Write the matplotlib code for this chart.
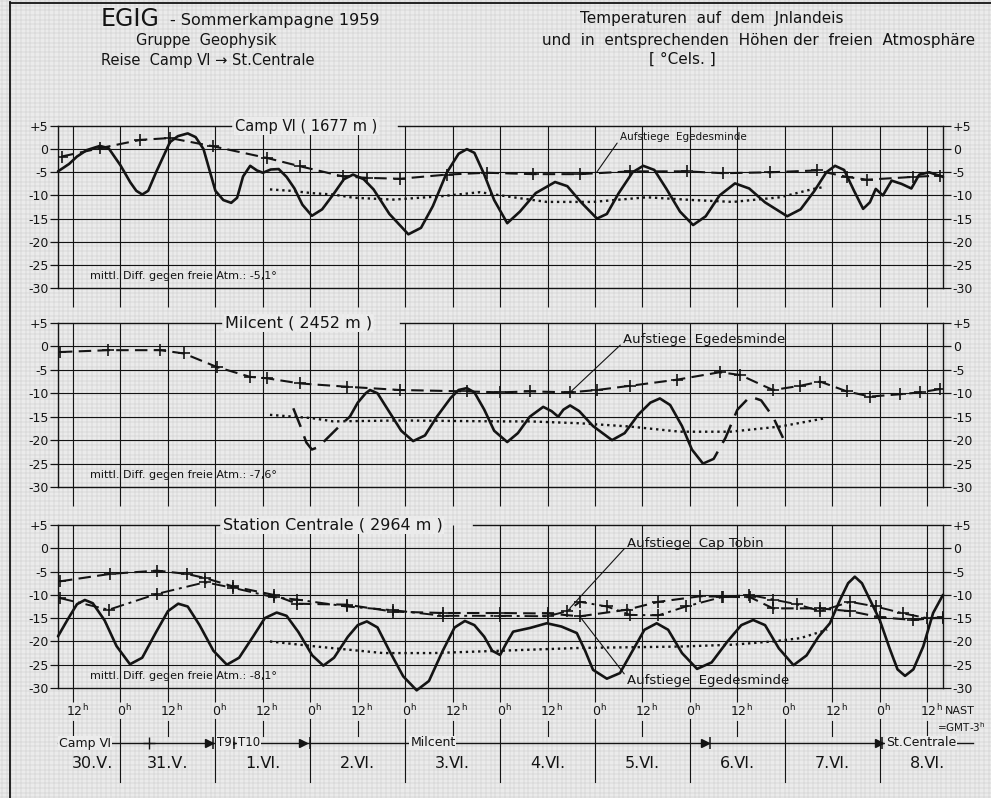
import numpy as np
import matplotlib
matplotlib.use("Agg")
import matplotlib.pyplot as plt
from matplotlib.collections import LineCollection

plt.rcParams['font.family'] = ['DejaVu Sans']
plt.rcParams['mathtext.fontset'] = 'dejavusans'

# ---------------- data (hours after 30.V 0h NAST, temperature in deg C) ----------------
hour_ticks = list(range(12, 229, 12))
y_ticks = [5, 0, -5, -10, -15, -20, -25, -30]
y_labels = ['+5', '0', '-5', '-10', '-15', '-20', '-25', '-30']
day_labels = ['30.Ⅴ.', '31.Ⅴ.', '1.Ⅵ.', '2.Ⅵ.', '3.Ⅵ.', '4.Ⅵ.', '5.Ⅵ.', '6.Ⅵ.', '7.Ⅵ.', '8.Ⅵ.']
day_label_h = [17, 36, 60, 84, 108, 132, 156, 180, 204, 228]

panel_titles = ['Camp Ⅵ ( 1677 m )', 'Milcent ( 2452 m )', 'Station Centrale ( 2964 m )']
mean_diff = ['mittl. Diff. gegen freie Atm.: -5,1°',
             'mittl. Diff. gegen freie Atm.: -7,6°',
             'mittl. Diff. gegen freie Atm.: -8,1°']

# Camp VI
c6_ice = [(8.2, -4.8), (11, -3.2), (13, -1.6), (15.5, -0.2), (18.8, 0.7), (21, 0.2), (24, -3.5),
          (26.5, -7.2), (28, -9.0), (29.5, -9.8), (31, -9.0), (33, -5.0), (36.5, 1.5), (38.5, 2.8),
          (41, 3.4), (43, 2.6), (45, 0.0), (48, -9.0), (50, -11.0), (52, -11.6), (53.5, -10.5),
          (55, -5.9), (56.8, -3.6), (58.5, -4.6), (60, -5.1), (62, -4.4), (64, -4.3), (66, -6.0),
          (68, -8.5), (70, -12.0), (72.4, -14.4), (75, -13.0), (77.8, -9.8), (80.5, -6.5),
          (82.8, -5.5), (85.5, -6.5), (88, -8.7), (92, -14.0), (96.8, -18.4), (100, -17.0),
          (103, -12.3), (106.5, -5.1), (109.5, -1.0), (111.6, 0.0), (113.5, -0.8), (116, -5.5),
          (118.5, -11.0), (121.8, -16.0), (125, -13.5), (129, -9.5), (133.9, -7.1), (137, -8.0),
          (140.5, -11.5), (144.5, -15.0), (147, -14.0), (150, -9.5), (153.5, -5.0), (156.2, -3.6),
          (159, -4.5), (162, -8.5), (165.5, -13.5), (168.8, -16.4), (172, -14.5), (175.5, -10.0),
          (179.4, -7.4), (183, -8.5), (187, -11.5), (192.6, -14.5), (196, -13.0), (199.5, -9.0),
          (202.5, -5.0), (204.7, -3.6), (207, -4.5), (209.5, -9.0), (211.8, -12.9), (213.5, -11.5),
          (215, -8.6), (216.8, -10.0), (219, -6.8), (221.5, -7.5), (224, -8.5), (226, -5.5),
          (228.5, -5.0), (232, -6.0)]
c6_egedes = [(9.1, -1.6), (18.8, 0.2), (29, 2.0), (36.5, 2.4), (47.5, 0.6), (61, -1.9), (69.4, -3.7),
             (80.3, -5.9), (86.3, -6.2), (94.7, -6.4), (106.5, -5.5), (116.6, -5.1), (128.3, -5.4),
             (140.2, -5.4), (152.9, -4.8), (167.3, -4.8), (176.4, -5.2), (188.3, -5.0), (200.1, -4.6),
             (207.7, -6.0), (212.8, -6.6), (224.4, -6.0), (231.3, -5.7)]
c6_mean = [(61.8, -8.7), (67, -9.0), (72.4, -9.5), (77.8, -9.8), (82.9, -10.5), (93, -10.9),
           (104.8, -10.2), (114.9, -9.3), (123.3, -10.4), (131.8, -11.4), (143.5, -11.4),
           (157.1, -10.4), (168.8, -11.0), (178.9, -11.4), (190.8, -10.4), (199.2, -8.6), (201.7, -8.2)]

# Milcent
mc_ice_start = [(67.7, -13.2), (69.5, -17.0), (71, -20.5), (72.4, -22.0), (74, -21.5), (77, -19.0),
                (80, -16.5), (82, -15.0)]
mc_ice = [(82, -15.0), (84, -12.0), (86, -10.0), (87.1, -9.3), (89, -10.0), (92, -14.0), (95, -18.0),
          (98, -20.2), (101, -19.0), (104, -15.0), (107.5, -11.0), (109.5, -9.3), (111.6, -8.9),
          (113.5, -9.8), (116, -13.5), (118.5, -18.0), (121.8, -20.4), (124.5, -18.5), (127.5, -15.0),
          (130.9, -12.9), (133, -13.8), (134.7, -15.0), (136, -13.5), (137.7, -12.6), (140, -13.8),
          (143.5, -17.0), (148.3, -20.0), (151.5, -18.5), (155, -14.5), (158, -12.0), (160.4, -11.1),
          (163, -12.5), (166, -17.0), (168.5, -22.0), (171.3, -25.0)]
mc_ice_end = [(171.3, -25.0), (174, -24.0), (177, -19.5), (180, -13.5), (183.2, -10.7), (186, -11.5),
              (189, -15.0), (192.6, -21.4)]
mc_egedes = [(8.7, -1.2), (20.9, -0.8), (34, -0.8), (40, -1.5), (48.4, -4.4), (56.8, -6.5), (61, -6.8),
             (69.4, -7.9), (81.2, -8.6), (94.7, -9.3), (111.6, -9.6), (120, -9.8), (127.6, -9.6),
             (137.7, -9.8), (144.5, -9.3), (152.9, -8.4), (164.7, -7.1), (175.6, -5.5), (180.7, -6.1),
             (189, -9.3), (195.9, -8.4), (200.9, -7.5), (207.7, -9.6), (213.6, -10.7), (221.2, -10.2),
             (226.2, -9.8), (231.3, -9.1)]
mc_mean = [(61.8, -14.6), (72.4, -15.3), (77.8, -16.0), (94.7, -15.8), (120, -16.0), (127.6, -16.0),
           (140.2, -16.4), (152.9, -17.1), (165.5, -18.2), (178.2, -18.2), (190.8, -17.1), (201.7, -15.4)]

# Station Centrale
sc_ice = [(8.2, -18.9), (10.5, -15.5), (13, -12.0), (15, -11.1), (17, -11.8), (20, -15.5), (23, -21.0),
          (26.4, -24.9), (29.5, -23.5), (33, -18.0), (36, -13.5), (38.6, -11.9), (41, -12.5),
          (44, -16.5), (47.5, -22.0), (50.9, -25.0), (54, -23.5), (57.5, -19.0), (60.5, -15.0),
          (63.5, -13.8), (66, -14.5), (69, -18.0), (72.5, -23.0), (75.3, -25.2), (78, -23.5),
          (81.5, -19.0), (84, -16.5), (86.3, -15.7), (89, -17.0), (92, -22.0), (95.5, -27.5),
          (98.9, -30.5), (102, -28.5), (105.5, -22.0), (108.5, -17.0), (111.1, -15.6), (113.5, -16.5),
          (116, -19.0), (118, -22.0), (120, -22.9), (121.5, -20.5), (123.3, -17.9), (127.6, -17.1),
          (131.8, -16.1), (135.5, -16.8), (139.4, -18.2), (141.5, -22.0), (143.5, -26.1), (147, -28.0),
          (150.3, -26.8), (153.5, -22.0), (156.5, -17.5), (159.6, -16.1), (162.5, -17.5), (166, -22.5),
          (169.8, -25.9), (173.5, -24.5), (177.5, -20.0), (181, -16.5), (184, -15.4), (187, -16.5),
          (190.5, -21.5), (194.2, -25.1), (197.5, -23.0), (200.5, -19.0), (203.4, -16.1), (206, -11.0),
          (208, -7.5), (209.7, -6.1), (211.5, -7.5), (213.5, -11.0), (216, -15.4), (218.5, -21.5),
          (220.5, -26.0), (222.4, -27.4), (224.5, -26.0), (227, -21.1), (229.5, -13.9), (232, -10.0)]
sc_egedes = [(8.7, -7.1), (21.4, -5.5), (33.2, -4.8), (40.8, -5.5), (45.4, -6.4), (52.5, -8.2),
             (62.7, -10.0), (68.6, -11.9), (81.2, -12.1), (93, -13.6), (105.6, -13.9), (120, -13.9),
             (132, -14.0), (140.2, -14.6), (152, -13.2), (160, -11.5), (170.6, -10.3), (176.4, -10.4),
             (183.2, -10.5), (189, -12.9), (200.9, -12.9), (208.5, -13.5), (216, -14.8), (224.4, -15.4),
             (232, -14.8)]
sc_tobin = [(8.7, -10.7), (21, -13.2), (33.2, -9.8), (45.4, -7.3), (52.5, -8.5), (62.7, -10.5),
            (68.6, -11.0), (81.2, -12.5), (93, -13.3), (105.6, -14.5), (120, -14.5), (132, -14.6),
            (137, -13.5), (140.2, -11.5), (147, -12.5), (152.9, -14.3), (160, -14.4), (167, -12.5),
            (176, -10.5), (183, -10.0), (189, -11.0), (195, -12.0), (201, -13.5), (208.5, -11.5),
            (215, -12.5), (222, -14.0), (228, -15.0), (232, -15.0)]
sc_mean = [(61.8, -20.0), (73.6, -21.1), (90.4, -22.5), (103.1, -22.5), (120, -22.0), (140.2, -21.4),
           (165.5, -21.1), (178.9, -20.7), (189, -20.0), (195.9, -19.3), (202.7, -17.5)]

# travel route (hours)
route_arrow_h = [46.4, 51.9, 70.2, 171.8, 215.8]
route_bar_h = [47.3, 52.7, 72.0, 173.2, 216.6]
route_cross_h = [31.2]

# ---------------- layout / style ----------------
W, H = 991, 798
BG = '#ebebeb'
FINE = '#c9c9c9'
INK = '#141414'
H_LEFT, H_RIGHT = 8.2, 232.0
X0, X1 = 58, 943
panel_px = [(126, 288), (323, 487), (525, 688)]
title_gap = [(52.0, 94.3), (49.5, 94.7), (49.0, 113.2)]
title_fs = [10.5, 11.5, 11.5]
NARROW = ['Liberation Sans Narrow', 'DejaVu Sans']

fig = plt.figure(figsize=(W / 100, H / 100), dpi=100, facecolor=BG)


def fx(x):
    return x / W


def fy(y):
    return 1 - y / H


# graph-paper background
bg = fig.add_axes([0, 0, 1, 1], zorder=-10)
bg.set_xlim(0, W)
bg.set_ylim(H, 0)
bg.axis('off')
xs = np.arange(1.8, W, 4.745)
ys = np.arange(1.0, H, 4.63)
segs = [[(x, 0), (x, H)] for x in xs] + [[(0, y), (W, y)] for y in ys]
bg.add_collection(LineCollection(segs, colors=FINE, linewidths=0.35))
bg.plot([10, 10], [2, H], color=INK, lw=1.3)
bg.plot([10, W], [2.5, 2.5], color=INK, lw=1.3)

# header
bg.text(101, 19, 'EGIG', fontsize=17, va='center', ha='left', color=INK)
bg.text(170, 21, '- Sommerkampagne 1959', fontsize=11.5, va='center', ha='left', color=INK)
bg.text(136, 41, 'Gruppe  Geophysik', fontsize=10.5, va='center', ha='left', color=INK)
bg.text(101, 61, 'Reise  Camp Ⅵ → St.Centrale', fontsize=10.5, va='center', ha='left', color=INK)
bg.text(712, 19, 'Temperaturen  auf  dem  Jnlandeis', fontsize=11, va='center', ha='center', color=INK)
bg.text(759, 40, 'und  in  entsprechenden  Höhen der  freien  Atmosphäre', fontsize=11,
        va='center', ha='center', color=INK)
bg.text(682, 59, '[ °Cels. ]', fontsize=11, va='center', ha='center', color=INK)
bg.text(985, 727, '=GMT-3$^{\\mathrm{h}}$', fontsize=7.5, ha='right', va='center', color=INK,
        family=NARROW)

JOIN = dict(solid_joinstyle='round', solid_capstyle='round')
SOLID = dict(ls='-', lw=1.9, color=INK, **JOIN)
LONGDASH = dict(ls=(0, (8, 4)), lw=1.8, color=INK)
DASH = dict(ls=(0, (6, 3)), lw=1.5, color=INK, marker='+', ms=8, mew=1.2)
DASHDOT = dict(ls=(0, (7, 2.5, 1.5, 2.5)), lw=1.4, color=INK, marker='+', ms=8, mew=1.2)
DOT = dict(ls=(0, (1, 1.6)), lw=1.7, color=INK)

axes = []
for i, (top, bot) in enumerate(panel_px):
    ax = fig.add_axes([fx(X0), fy(bot), fx(X1) - fx(X0), (bot - top) / H])
    ax.set_xlim(H_LEFT, H_RIGHT)
    ax.set_ylim(-30, 5)
    ax.patch.set_alpha(0)
    for s in ['left', 'right', 'bottom']:
        ax.spines[s].set_linewidth(1.0)
        ax.spines[s].set_color(INK)
    ax.spines['top'].set_visible(False)
    ax.set_yticks(y_ticks)
    ax.set_yticklabels(y_labels)
    ax.tick_params(axis='y', direction='out', length=6, width=0.9, labelsize=9, pad=1,
                   left=True, right=True, labelleft=True, labelright=True, colors=INK)
    ax.tick_params(axis='x', length=0, labelbottom=False)
    for t in y_ticks[1:-1]:
        ax.axhline(t, color=INK, lw=0.8, zorder=1)
    ext = -33 if i == 2 else -34
    ax.vlines(hour_ticks, ext, 5, color=INK, lw=0.8, clip_on=False, zorder=1)
    g0, g1 = title_gap[i]
    ax.plot([H_LEFT, g0], [5, 5], color=INK, lw=1.0, clip_on=False)
    ax.plot([g1, H_RIGHT], [5, 5], color=INK, lw=1.0, clip_on=False)
    ax.text(g0 + 1, 5, panel_titles[i], fontsize=title_fs[i], va='center', ha='left', color=INK,
            bbox=dict(facecolor=BG, edgecolor='none', pad=1.0), zorder=5)
    ax.text(16.3, -27.5, mean_diff[i], fontsize=8, va='center', ha='left', color=INK)
    axes.append(ax)


def xy(series):
    h, t = zip(*series)
    return list(h), list(t)


ax1, ax2, ax3 = axes
# panel 1
ax1.plot(*xy(c6_ice), clip_on=False, zorder=4, **SOLID)
ax1.plot(*xy(c6_egedes), zorder=3, **DASH)
ax1.plot(*xy(c6_mean), zorder=3, **DOT)
ax1.annotate('Aufstiege  Egedesminde', xy=(144.5, -4.9), xytext=(150.3, 2.6), fontsize=7.5,
             color=INK, va='center', ha='left',
             arrowprops=dict(arrowstyle='-', color=INK, lw=0.8, shrinkA=0, shrinkB=0,
                             relpos=(0, 0.3)))
# panel 2
ax2.plot(*xy(mc_ice_start), zorder=4, **LONGDASH)
ax2.plot(*xy(mc_ice), zorder=4, **SOLID)
ax2.plot(*xy(mc_ice_end), zorder=4, **LONGDASH)
ax2.plot(*xy(mc_egedes), zorder=3, **DASH)
ax2.plot(*xy(mc_mean), zorder=3, **DOT)
ax2.annotate('Aufstiege  Egedesminde', xy=(137.7, -9.8), xytext=(151.1, 1.4), fontsize=9.5,
             color=INK, va='center', ha='left',
             arrowprops=dict(arrowstyle='-', color=INK, lw=0.8, shrinkA=0, shrinkB=0,
                             relpos=(0, 0.3)))
# panel 3
ax3.plot(*xy(sc_ice), clip_on=False, zorder=4, **SOLID)
ax3.plot(*xy(sc_egedes), zorder=3, **DASH)
ax3.plot(*xy(sc_tobin), zorder=3, **DASHDOT)
ax3.plot(*xy(sc_mean), zorder=3, **DOT)
ax3.annotate('Aufstiege  Cap Tobin', xy=(137.7, -12.8), xytext=(152.1, 1.1), fontsize=9.5,
             color=INK, va='center', ha='left',
             arrowprops=dict(arrowstyle='-', color=INK, lw=0.8, shrinkA=0, shrinkB=0,
                             relpos=(0, 0.3)))
ax3.annotate('Aufstiege  Egedesminde', xy=(140.2, -14.7), xytext=(152.1, -28.3), fontsize=9.5,
             color=INK, va='center', ha='left',
             arrowprops=dict(arrowstyle='-', color=INK, lw=0.8, shrinkA=0, shrinkB=0,
                             relpos=(0, 0.7)))

# bottom time axis (y in image pixels)
axb = fig.add_axes([fx(X0), 0, fx(X1) - fx(X0), (H - 690) / H], sharex=ax3)
axb.set_ylim(H, 690)
axb.axis('off')
axb.patch.set_alpha(0)
for h in hour_ticks:
    lab = '12$^{\\mathrm{h}}$' if h % 24 == 12 else '0$^{\\mathrm{h}}$'
    axb.text(h + 1, 711, lab, fontsize=9, ha='center', va='center', color=INK)
    if h % 24 == 0:
        axb.plot([h, h], [719, 782], color=INK, lw=0.8, clip_on=False)
    else:
        axb.plot([h, h], [721, 736], color=INK, lw=0.8, clip_on=False)
axb.text(232.6, 711, 'NAST', fontsize=8, ha='left', va='center', color=INK, family=NARROW)

axb.plot([H_LEFT, 239.5], [743, 743], color=INK, lw=1.0, clip_on=False)
axb.plot(route_arrow_h, [743] * len(route_arrow_h), ls='none', marker='>', ms=6, color=INK,
         clip_on=False)
axb.plot(route_bar_h, [743] * len(route_bar_h), ls='none', marker='|', ms=9, mew=1.1, color=INK,
         clip_on=False)
axb.plot(route_cross_h, [743] * len(route_cross_h), ls='none', marker='+', ms=9, mew=1.0, color=INK,
         clip_on=False)
tb = dict(facecolor=BG, edgecolor='none', pad=0.6)
axb.text(15.0, 743, 'Camp Ⅵ', fontsize=9, ha='center', va='center', color=INK, bbox=tb)
axb.text(48.4, 743, 'T9', fontsize=8.5, ha='left', va='center', color=INK, bbox=tb)
axb.text(53.8, 743, 'T10', fontsize=8.5, ha='left', va='center', color=INK, bbox=tb)
axb.text(103.0, 743, 'Milcent', fontsize=9, ha='center', va='center', color=INK, bbox=tb)
axb.text(217.6, 743, 'St.Centrale', fontsize=9, ha='left', va='center', color=INK, bbox=tb)
for lab, h in zip(day_labels, day_label_h):
    axb.text(h, 764, lab, fontsize=11.5, ha='center', va='center', color=INK)

fig.savefig('out.png', dpi=100, facecolor=BG)
